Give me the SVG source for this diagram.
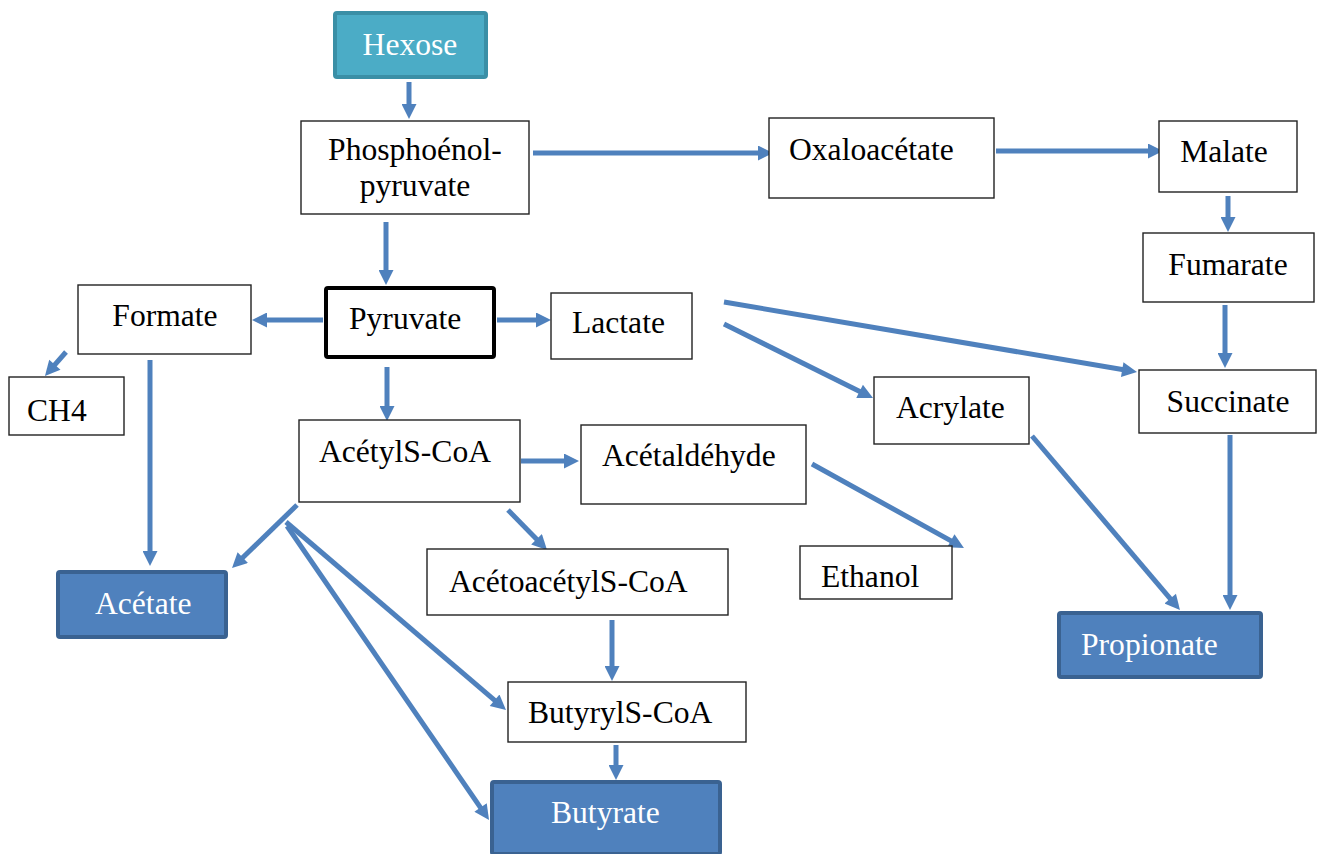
<svg xmlns="http://www.w3.org/2000/svg" width="1319" height="854" viewBox="0 0 1319 854">
<defs>
<marker id="ah" viewBox="0 0 10 10" refX="5" refY="5" markerWidth="16" markerHeight="15" markerUnits="userSpaceOnUse" orient="auto">
<path d="M0,0 L10,5 L0,10 z" fill="#4F81BD"/>
</marker>
<style>
.box{fill:#fff;stroke:#222;stroke-width:1.4}
.t{font-family:"Liberation Serif","Times New Roman",serif;font-size:31.6px;fill:#000}
.w{fill:#fff}
.blue{fill:#4F81BD;stroke:#3A6291;stroke-width:4}
.teal{fill:#4BACC6;stroke:#3A8FA6;stroke-width:4}
.c line{stroke:#4F81BD;stroke-width:5;marker-end:url(#ah)}
</style>
</defs>
<rect width="1319" height="854" fill="#fff"/>
<g class="c" id="connectors">
<line x1="409" y1="82" x2="409" y2="111.5"/>
<line x1="533" y1="153" x2="765.5" y2="153"/>
<line x1="996" y1="151" x2="1155.5" y2="151"/>
<line x1="1228" y1="196" x2="1228" y2="224.5"/>
<line x1="1225" y1="305" x2="1225" y2="360.5"/>
<line x1="1230" y1="435" x2="1230" y2="602.5"/>
<line x1="386" y1="222" x2="386" y2="277.5"/>
<line x1="323" y1="320" x2="259.5" y2="320"/>
<line x1="497" y1="320" x2="543.5" y2="320"/>
<line x1="66" y1="352" x2="49.9" y2="370.4"/>
<line x1="150" y1="360" x2="150" y2="558.5"/>
<line x1="387" y1="367" x2="387" y2="413.5"/>
<line x1="724" y1="302" x2="1129.6" y2="370.8"/>
<line x1="724" y1="324" x2="866.3" y2="394.7"/>
<line x1="1032" y1="436" x2="1175.1" y2="604.3"/>
<line x1="812" y1="464" x2="957.4" y2="544.4"/>
<line x1="521" y1="461" x2="571.5" y2="461"/>
<line x1="508" y1="510" x2="541.8" y2="544.6"/>
<line x1="612" y1="620" x2="612" y2="673.5"/>
<line x1="616" y1="745" x2="616" y2="772.5"/>
<line x1="297" y1="505" x2="237.4" y2="562.8"/>
<line x1="286" y1="522" x2="500.3" y2="705.1"/>
<line x1="287" y1="526" x2="484.8" y2="813.8"/>
</g>
<g id="hexose"><rect class="teal" x="335" y="13" width="151" height="64" rx="2"/><text class="t w" x="410" y="55" text-anchor="middle">Hexose</text></g>
<g id="pep"><rect class="box" x="301" y="121" width="228" height="93"/><text class="t" x="415" y="160" text-anchor="middle">Phosphoénol-</text><text class="t" x="415" y="196" text-anchor="middle">pyruvate</text></g>
<g id="oxaloacetate"><rect class="box" x="769" y="118" width="225" height="80"/><text class="t" x="789" y="160">Oxaloacétate</text></g>
<g id="malate"><rect class="box" x="1159" y="121" width="138" height="71"/><text class="t" x="1224" y="162" text-anchor="middle">Malate</text></g>
<g id="fumarate"><rect class="box" x="1143" y="233" width="171" height="69"/><text class="t" x="1228" y="275" text-anchor="middle">Fumarate</text></g>
<g id="succinate"><rect class="box" x="1139" y="370" width="177" height="63"/><text class="t" x="1228" y="412" text-anchor="middle">Succinate</text></g>
<g id="propionate"><rect class="blue" x="1059" y="613" width="202" height="64" rx="2"/><text class="t w" x="1081" y="655">Propionate</text></g>
<g id="pyruvate"><rect x="326" y="288" width="168" height="69" rx="2" fill="#fff" stroke="#000" stroke-width="4"/><text class="t" x="349" y="329">Pyruvate</text></g>
<g id="formate"><rect class="box" x="78" y="285" width="173" height="69"/><text class="t" x="165" y="326" text-anchor="middle">Formate</text></g>
<g id="ch4"><rect class="box" x="9" y="377" width="115" height="58"/><text class="t" x="27" y="421">CH4</text></g>
<g id="lactate"><rect class="box" x="551" y="293" width="141" height="66"/><text class="t" x="572" y="333">Lactate</text></g>
<g id="acetylscoa"><rect class="box" x="299" y="420" width="221" height="82"/><text class="t" x="319" y="462">AcétylS-CoA</text></g>
<g id="acetaldehyde"><rect class="box" x="581" y="425" width="225" height="79"/><text class="t" x="602" y="466">Acétaldéhyde</text></g>
<g id="acetoacetylscoa"><rect class="box" x="427" y="549" width="301" height="66"/><text class="t" x="449" y="592">AcétoacétylS-CoA</text></g>
<g id="ethanol"><rect class="box" x="800" y="546" width="152" height="53"/><text class="t" x="821" y="587">Ethanol</text></g>
<g id="acrylate"><rect class="box" x="874" y="377" width="155" height="67"/><text class="t" x="896" y="418">Acrylate</text></g>
<g id="acetate"><rect class="blue" x="58" y="572" width="168" height="65" rx="2"/><text class="t w" x="95" y="614">Acétate</text></g>
<g id="butyrylscoa"><rect class="box" x="508" y="682" width="238" height="60"/><text class="t" x="528" y="723">ButyrylS-CoA</text></g>
<g id="butyrate"><rect class="blue" x="492" y="782" width="228" height="72" rx="2"/><text class="t w" x="551" y="823">Butyrate</text></g>
</svg>
